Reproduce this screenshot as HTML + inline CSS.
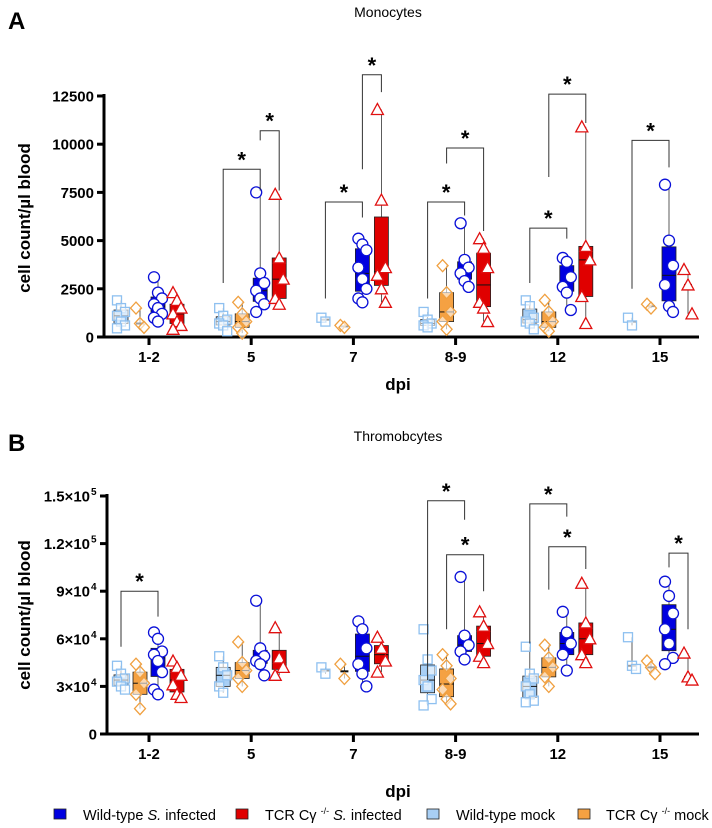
<!DOCTYPE html>
<html><head><meta charset="utf-8"><style>
body{margin:0;background:#fff}
svg{display:block;font-family:"Liberation Sans",Arial,sans-serif}
</style></head><body>
<svg id="chart" width="712" height="828" xmlns="http://www.w3.org/2000/svg">
<text x="8" y="29" font-size="24" font-weight="bold">A</text>
<text x="388" y="17" font-size="14" text-anchor="middle">Monocytes</text>
<text x="8" y="451" font-size="24" font-weight="bold">B</text>
<text x="398" y="441" font-size="14" text-anchor="middle">Thromobcytes</text>
<text transform="translate(30,218) rotate(-90)" font-size="17" font-weight="bold" text-anchor="middle">cell count/µl blood</text>
<text transform="translate(30,615) rotate(-90)" font-size="17" font-weight="bold" text-anchor="middle">cell count/µl blood</text>
<text x="398" y="390" font-size="17" font-weight="bold" text-anchor="middle">dpi</text>
<text x="398" y="797" font-size="17" font-weight="bold" text-anchor="middle">dpi</text>
<g id="A"></g>
<g id="B"></g>
<g font-size="14.5">
 <g><rect x="54" y="809" width="12" height="10" fill="#0000e0" stroke="#222" stroke-width="0.8"/><text x="83" y="820">Wild-type <tspan font-style="italic">S.</tspan> infected</text></g>
 <g><rect x="236" y="809" width="12" height="10" fill="#e00000" stroke="#222" stroke-width="0.8"/><text x="265" y="820">TCR Cγ <tspan font-size="9" dy="-6">-/-</tspan><tspan dy="6" font-style="italic"> S.</tspan> infected</text></g>
 <g><rect x="427" y="809" width="12" height="10" fill="#a8cff5" stroke="#222" stroke-width="0.8"/><text x="456" y="820">Wild-type mock</text></g>
 <g><rect x="578" y="809" width="12" height="10" fill="#f5a142" stroke="#222" stroke-width="0.8"/><text x="606" y="820">TCR Cγ <tspan font-size="9" dy="-6">-/-</tspan><tspan dy="6"> mock</tspan></text></g>
</g>
</svg>
<script>
const categories = ["1-2","5","7","8-9","12","15"];
const groupNames = ["wt-mock","ko-mock","wt-infected","ko-infected"];
// Panel A: monocytes (cells/µl)
const monoWtMock = [[1900,1500,1300,1100,800,600,450],[1500,1100,900,700,600,300],[1000,800],[1300,900,700,600,500],[1900,1600,1000,800,700,400],[1000,600]];
const monoKoMock = [[1500,700,500],[1800,1200,800,500,200],[600,500],[3700,2300,1300,800,400],[1900,1300,800,500,300],[1700,1500]];
const monoWtInf = [[3100,2300,2000,1700,1500,1200,1000,800],[7500,3300,2800,2400,2000,1700,1300],[5100,4800,4500,3600,3000,2500,2000,1800],[5900,4000,3600,3300,2900,2600],[4100,3900,3100,2600,2300,1400],[7900,5000,3700,2700,1600,1300]];
const monoKoInf = [[2300,1900,1500,1200,800,600,400],[7400,4100,3000,2000,1700],[11800,7100,3600,3200,2500,1800],[5100,4600,3600,1800,1500,800],[10900,4700,4000,2100,700],[3500,2700,1200]];
const monoTicks = [0,2500,5000,7500,10000,12500];
// brackets: [category, groupFrom, groupTo, top, leftEnd, rightEnd]
const monoSig = [[1,0,2,8700,2800,7600],[1,2,3,10700,10200,7600],[2,0,2,7000,2000,6200],[2,2,3,13600,8700,12700],[3,0,2,7000,2000,6300],[3,1,3,9800,9000,5500],[4,0,2,5650,2800,5100],[4,1,3,12600,8300,11100],[5,0,2,10200,2500,8800]];
// Panel B: thrombocytes (×10^4 cells/µl)
const thrWtMock = [[4.3,3.8,3.5,3.3,3.0,2.8],[4.9,4.2,3.7,3.0,2.6],[4.2,3.8],[6.6,4.7,4.0,3.4,3.0,2.2,1.8],[5.5,3.8,3.5,3.0,2.5,2.1,2.0],[6.1,4.3,4.1]];
const thrKoMock = [[4.4,3.9,3.2,2.5,1.6],[5.8,4.5,4.0,3.5,3.0],[4.4,3.5],[5.0,4.3,3.5,2.8,2.2,1.9],[5.6,4.8,4.2,3.6,3.0],[4.6,4.2,3.8]];
const thrWtInf = [[6.4,6.0,5.2,5.0,4.6,3.9,2.8,2.5],[8.4,5.4,4.9,4.6,4.4,3.7],[7.1,6.6,5.4,4.4,3.8,3.0],[9.9,6.2,5.6,5.2,4.7],[7.7,6.4,5.7,5.0,4.0],[9.6,8.7,7.6,6.6,5.7,4.8,4.4]];
const thrKoInf = [[4.6,4.2,3.7,3.1,2.5,2.3],[6.7,4.8,4.2,3.7],[6.1,5.4,4.6,3.9],[7.7,6.8,5.7,4.9,4.5],[9.5,7.0,6.0,5.0,4.5],[5.1,3.6,3.4]];
const thrTicks = [0,3,6,9,12,15];
const thrTickLabels = ["0","3×10","6×10","9×10","1.2×10","1.5×10"];
const thrTickExp = ["","4","4","4","5","5"];
const thrSig = [[0,0,2,9.0,5.5,7.4],[3,0,2,14.7,3.4,13.5],[3,1,3,11.3,6.6,9.0],[4,0,2,14.5,5.7,13.7],[4,1,3,11.8,9.1,10.4],[5,2,3,11.4,10.5,6.6]];

const NS="http://www.w3.org/2000/svg";
function mk(parent,tag,attrs){const e=document.createElementNS(NS,tag);for(const k in attrs)e.setAttribute(k,attrs[k]);parent.appendChild(e);return e;}
function q(sorted,p){const i=(sorted.length-1)*p,lo=Math.floor(i),hi=Math.ceil(i);return sorted[lo]+(sorted[hi]-sorted[lo])*(i-lo);}
const colors={stroke:["#8ec0f0","#f0a040","#0a10d8","#e01010"],fill:["#a8cff5","#f5a142","#0000e0","#e00000"]};
const offsets=[-28,-9,9,28];

function panel(gId,series,ticks,tickLabels,tickExp,sig,y0,ymax,yTop,axisX){
  const g=document.getElementById(gId);
  const yScale=v=>y0-v/ymax*(y0-yTop);
  const xScale=i=>149+i*102.2;
  const ax=mk(g,'line',{x1:axisX,y1:yTop-2,x2:axisX,y2:y0+1.5,stroke:'#000','stroke-width':3});
  
  
  const xa=mk(g,'line',{x1:axisX-1.5,y1:y0,x2:699,y2:y0,stroke:'#000','stroke-width':3});
  
  
  ticks.forEach((t,i)=>{
    const y=yScale(t);
    const tl=mk(g,'line',{x1:axisX-7,y1:y,x2:axisX,y2:y,stroke:'#000','stroke-width':3});
    
    
    const tx=mk(g,'text',{x:axisX-10-(tickExp&&tickExp[i]?7:0),y:y+5.5,'font-size':15,'font-weight':'bold','text-anchor':'end'});
    
    
    tx.textContent=tickLabels?tickLabels[i]:String(t);
    if(tickExp&&tickExp[i]){const s=mk(g,'text',{x:axisX-16,y:y-1,'font-size':10,'font-weight':'bold'});s.textContent=tickExp[i];
      
      }
  });
  categories.forEach((c,i)=>{
    const x=xScale(i);
    const tl=mk(g,'line',{x1:x,y1:y0,x2:x,y2:y0+8,stroke:'#000','stroke-width':3});
    
    
    const tx=mk(g,'text',{x:x,y:y0+25,'font-size':15,'font-weight':'bold','text-anchor':'middle'});
    
    
    tx.textContent=c;
  });
  series.forEach((ser,gi)=>{
    ser.forEach((vals,ci)=>{
      const cx=xScale(ci)+offsets[gi];
      const s=[...vals].sort((a,b)=>a-b);
      const bg=mk(g,'g',{});
      
      
      const mn=s[0],mx=s[s.length-1];
      let q1=q(s,0.25),md=q(s,0.5),q3=q(s,0.75);
      mk(bg,'line',{x1:cx,y1:yScale(mn),x2:cx,y2:yScale(mx),stroke:'#333','stroke-width':0.8});
      if(s.length>3){
        mk(bg,'rect',{x:cx-7,y:yScale(q3),width:14,height:Math.max(0.5,yScale(q1)-yScale(q3)),fill:colors.fill[gi],stroke:'#222','stroke-width':0.8});
        mk(bg,'line',{x1:cx-7,y1:yScale(md),x2:cx+7,y2:yScale(md),stroke:'#111','stroke-width':1});
      } else {
        mk(bg,'line',{x1:cx-4,y1:yScale(md),x2:cx+4,y2:yScale(md),stroke:'#111','stroke-width':2});
      }
      vals.forEach((v,k)=>{
        const jx=cx+((k%3)-1)*4;
        const y=yScale(v);
        let m;
        const st=colors.stroke[gi];
        if(gi===0)m=mk(bg,'rect',{x:jx-4.5,y:y-4.5,width:9,height:9,fill:'#fff','fill-opacity':0.6,stroke:st,'stroke-width':1.3});
        else if(gi===1)m=mk(bg,'polygon',{points:`${jx},${y-6} ${jx+5.5},${y} ${jx},${y+6} ${jx-5.5},${y}`,fill:'#fff','fill-opacity':0.6,stroke:st,'stroke-width':1.3});
        else if(gi===2)m=mk(bg,'circle',{cx:jx,cy:y,r:5.5,fill:'#fff',stroke:st,'stroke-width':1.3});
        else m=mk(bg,'polygon',{points:`${jx},${y-6} ${jx+6},${y+5} ${jx-6},${y+5}`,fill:'#fff',stroke:st,'stroke-width':1.3});
        
        
      });
    });
  });
  sig.forEach(b=>{
    const [ci,g1,g2,top,l,r]=b;
    const x1=xScale(ci)+offsets[g1],x2=xScale(ci)+offsets[g2];
    const bg=mk(g,'g',{});
    
    
    mk(bg,'polyline',{points:`${x1},${yScale(l)} ${x1},${yScale(top)} ${x2},${yScale(top)} ${x2},${yScale(r)}`,fill:'none',stroke:'#333','stroke-width':1});
    const t=mk(bg,'text',{x:(x1+x2)/2,y:yScale(top)-2,'font-size':22,'font-weight':'bold','text-anchor':'middle'});
    t.textContent='*';
  });
}
panel('A',[monoWtMock,monoKoMock,monoWtInf,monoKoInf],monoTicks,null,null,monoSig,337,12500,96,104);
panel('B',[thrWtMock,thrKoMock,thrWtInf,thrKoInf],thrTicks,thrTickLabels,thrTickExp,thrSig,734,15,496,107);
</script>
</body></html>
